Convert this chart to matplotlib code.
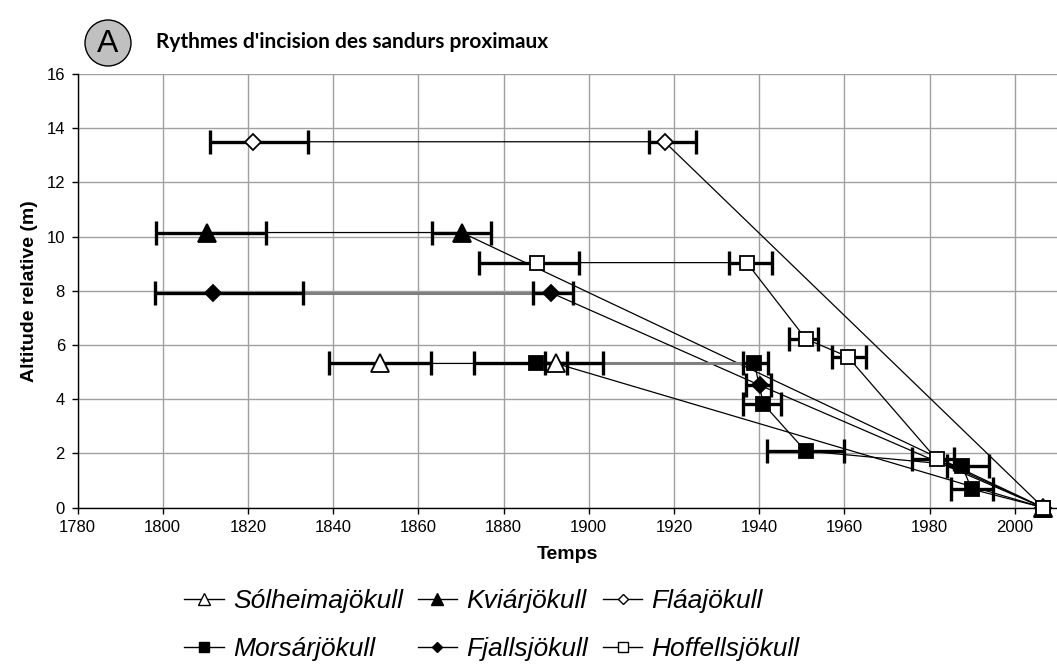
import matplotlib
matplotlib.use("Agg")
import matplotlib.pyplot as plt
from matplotlib.lines import Line2D
from matplotlib.patches import Ellipse

# Axis ticks
year_ticks = list(range(1780, 2001, 20))
alt_ticks = list(range(0, 17, 2))

# Reference date shared by every sandur (present-day level)
END_YEAR = 2006.7

# Sólheimajökull
sol_x = [1851.0, 1892.3, END_YEAR]
sol_y = [5.32, 5.32, 0.0]
sol_lo = [12.0, 2.5, 0.0]
sol_hi = [12.0, 2.5, 0.0]

# Kviárjökull
kvi_x = [1810.3, 1870.2, END_YEAR]
kvi_y = [10.15, 10.15, 0.0]
kvi_lo = [11.9, 7.1, 0.0]
kvi_hi = [13.9, 6.8, 0.0]

# Fláajökull
fla_x = [1821.3, 1917.8, END_YEAR]
fla_y = [13.5, 13.5, 0.0]
fla_lo = [10.3, 3.6, 0.0]
fla_hi = [12.8, 7.4, 0.0]

# Morsárjökull
mor_x = [1887.7, 1938.9, 1941.0, 1950.9, 1987.6, 1989.9, END_YEAR]
mor_y = [5.32, 5.32, 3.82, 2.09, 1.55, 0.68, 0.0]
mor_lo = [14.6, 2.7, 4.8, 9.1, 3.6, 4.9, 0.0]
mor_hi = [15.6, 3.1, 4.2, 9.1, 6.4, 5.1, 0.0]

# Fjallsjökull
fja_x = [1811.8, 1891.1, 1940.1, END_YEAR]
fja_y = [7.93, 7.93, 4.52, 0.0]
fja_lo = [13.6, 4.2, 3.2, 0.0]
fja_hi = [21.1, 5.2, 2.8, 0.0]

# Hoffellsjökull
hof_x = [1887.8, 1937.1, 1951.0, 1960.8, 1981.7, END_YEAR]
hof_y = [9.04, 9.04, 6.22, 5.57, 1.78, 0.0]
hof_lo = [13.6, 4.1, 3.9, 3.8, 5.7, 0.0]
hof_hi = [10.0, 6.0, 2.9, 4.2, 4.0, 0.0]

series = [
    ("Sólheimajökull", sol_x, sol_y, sol_lo, sol_hi, "^", "white", 13.5, None),
    ("Kviárjökull", kvi_x, kvi_y, kvi_lo, kvi_hi, "^", "black", 13.5, None),
    ("Fláajökull", fla_x, fla_y, fla_lo, fla_hi, "D", "white", 8.0, None),
    ("Morsárjökull", mor_x, mor_y, mor_lo, mor_hi, "s", "black", 10.5, 0),
    ("Fjallsjökull", fja_x, fja_y, fja_lo, fja_hi, "D", "black", 8.0, 0),
    ("Hoffellsjökull", hof_x, hof_y, hof_lo, hof_hi, "s", "white", 10.5, None),
]

W, H = 1057, 670
fig = plt.figure(figsize=(W / 100, H / 100), dpi=100)
fig.patch.set_facecolor("white")

left_px, right_px, top_px, bottom_px = 77.5, 1057.3, 74.0, 507.6
ax = fig.add_axes([left_px / W, (H - bottom_px) / H,
                   (right_px - left_px) / W, (bottom_px - top_px) / H])

tick_font = dict(family="Liberation Sans", size=12)

for k, (name, x, y, lo, hi, mk, fc, ms, grey_seg) in enumerate(series):
    ax.plot(x, y, color="black", lw=0.9, zorder=2, solid_capstyle="butt")
    if grey_seg is not None:
        ax.plot(x[grey_seg:grey_seg + 2], y[grey_seg:grey_seg + 2],
                color="#7f7f7f", lw=2.2, zorder=2.5, solid_capstyle="butt")
    idx = [i for i in range(len(x)) if lo[i] + hi[i] > 0]
    ax.errorbar([x[i] for i in idx], [y[i] for i in idx],
                xerr=[[lo[i] for i in idx], [hi[i] for i in idx]],
                fmt="none", ecolor="black", elinewidth=2.4,
                capsize=8.5, capthick=2.4, zorder=3)
    ax.plot(x, y, ls="none", marker=mk, ms=ms, mfc=fc, mec="black",
            mew=1.3, zorder=6 + 0.1 * k, clip_on=False)

ax.set_xlim(1780, 2010)
ax.set_ylim(0, 16)
ax.set_xticks(year_ticks)
ax.set_yticks(alt_ticks)
ax.set_xticklabels([str(v) for v in year_ticks], fontdict=tick_font)
ax.set_yticklabels([str(v) for v in alt_ticks], fontdict=tick_font)
ax.tick_params(direction="out", length=4, width=1, color="black", pad=5)
ax.grid(True, color="#a0a0a0", lw=1.0, zorder=0)
ax.set_axisbelow(True)
for side in ("top", "right"):
    ax.spines[side].set_visible(False)
for side in ("left", "bottom"):
    ax.spines[side].set_color("black")
    ax.spines[side].set_linewidth(1.0)
    ax.spines[side].set_zorder(5)

label_font = dict(family="Liberation Sans", size=14, weight="bold")
ax.set_xlabel("Temps", fontdict=label_font, labelpad=8)
ax.set_ylabel("Altitude relative (m)", fontdict=label_font, labelpad=6)

# Legend: three columns, two rows
handles = {}
for name, x, y, lo, hi, mk, fc, ms, grey_seg in series:
    handles[name] = Line2D([], [], color="black", lw=1.0, marker=mk,
                           ms=ms * 0.65, mfc=fc, mec="black", mew=1.0)
order = ["Sólheimajökull", "Morsárjökull", "Kviárjökull", "Fjallsjökull",
         "Fláajökull", "Hoffellsjökull"]
fig.legend([handles[n] for n in order], order, ncol=3, loc="center",
           bbox_to_anchor=(492 / W, 1 - 625 / H), frameon=False,
           prop=dict(family="Liberation Sans", style="italic", size=19),
           handlelength=1.5, handletextpad=0.35, columnspacing=0.55,
           labelspacing=0.9, borderpad=0.2)

# Panel badge and heading
badge = Ellipse((108 / W, 1 - 43 / H), 46 / W, 46 / H,
                transform=fig.transFigure, facecolor="#c0c0c0",
                edgecolor="black", lw=1.0)
fig.add_artist(badge)
fig.text(108 / W, 1 - 44 / H, "A", ha="center", va="center",
         family="Liberation Sans", size=23)
fig.text(156 / W, 1 - 42 / H, "Rythmes d'incision des sandurs proximaux",
         ha="left", va="center", family="Lato", weight="bold", size=15)

fig.savefig("out.png", dpi=100)
